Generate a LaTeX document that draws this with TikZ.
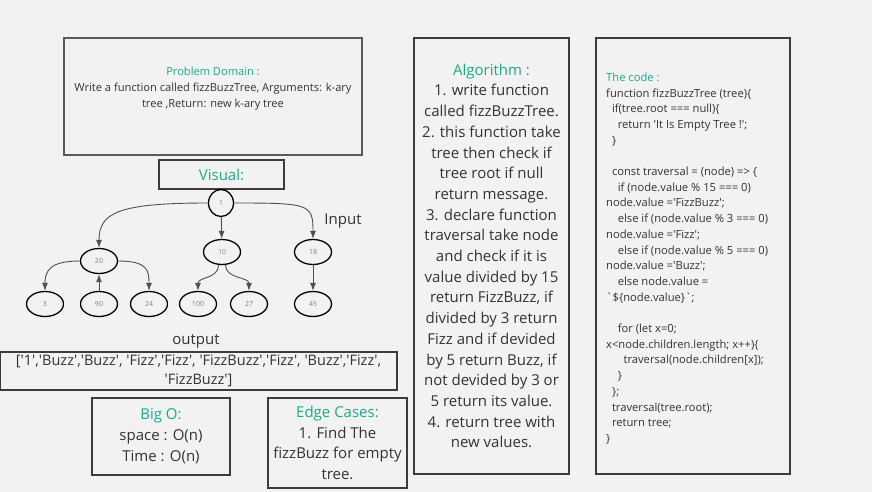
\documentclass[tikz,border=0pt]{standalone}
\usepackage{fontspec}
\setmainfont{Open Sans}
\usepackage{xcolor}
\usetikzlibrary{positioning, arrows.meta}
\usetikzlibrary{shapes, positioning}

\definecolor{bgGrey}{HTML}{F2F2F2}
\definecolor{headTeal}{HTML}{1AAA8A}
\definecolor{bodyText}{HTML}{333333}
\definecolor{boxLine}{HTML}{3C3C3C}
\definecolor{edgeGrey}{HTML}{505050}

\newcommand{\sq}{\textquotesingle}
\newcommand{\bq}{\textasciigrave}

\begin{document}
\begin{tikzpicture}[
            x=1pt, y=-1pt,
            box/.style={draw=boxLine, line width=1.3pt, inner sep=0pt, text=bodyText, align=center},
            vertex/.style={ellipse, draw, line width=1.3pt, minimum width=37pt, minimum height=25pt,
                inner sep=0pt, font=\fontsize{7}{8}\selectfont, text=gray},
            edge/.style={draw=edgeGrey, line width=0.9pt, -{Latex[length=8pt,width=6pt]}},
        ]
            \fill[bgGrey] (0,0) rectangle (872,492);
            \useasboundingbox (0,0) rectangle (872,492);

            % problem domain
            \node[box, draw=boxLine!85, line width=1.8pt, minimum width=298pt, minimum height=117pt] (problem) at (213,96.5) {};
            \node[text=bodyText, align=center, font=\fontsize{11.1}{16}\selectfont] (problemtext) at (213,88.5)
                {{\color{headTeal}Problem Domain :}\\
                Write a function called fizzBuzzTree, Arguments: k-ary\\
                tree ,Return: new k-ary tree};

            \node[box, minimum width=125pt, minimum height=29pt, text=headTeal,
                font=\fontsize{15}{18}\selectfont] (visual) at (221.5,174.5) {Visual:};

            % the tree
            \node[vertex, minimum width=25pt, minimum height=27pt] (n1) at (221,203) {1};
            \node[vertex] (n20) at (99,261) {20};
            \node[vertex] (n10) at (222,252) {10};
            \node[vertex] (n18) at (313,252) {18};
            \node[vertex] (n3) at (45,304) {3};
            \node[vertex] (n90) at (99,304) {90};
            \node[vertex] (n24) at (149,304) {24};
            \node[vertex] (n100) at (198,304) {100};
            \node[vertex] (n27) at (249,304) {27};
            \node[vertex] (n45) at (313,304) {45};

            \draw[edge] (n1.west) .. controls +(-90,0) and +(0,-35) .. (n20.north);
            \draw[edge] (n1.east) .. controls +(75,0) and +(0,-35) .. (n18.north);
            \draw[edge] (n1) -- (n10);
            \draw[edge] (n20.west) .. controls +(-30,0) and +(0,-20) .. (n3.north);
            \draw[edge] (n20.east) .. controls +(30,0) and +(0,-20) .. (n24.north);
            \draw[edge] (n90) -- (n20);
            \draw[edge] (n10.-105) .. controls +(0,14) and +(0,-14) .. (n100.north);
            \draw[edge] (n10.-75) .. controls +(0,14) and +(0,-14) .. (n27.north);
            \draw[edge] (n18) -- (n45);

            \node[text=bodyText, font=\fontsize{15}{18}\selectfont] (input) at (343,221) {Input};

            % output
            \node[text=bodyText, font=\fontsize{15}{18}\selectfont] (outlabel) at (196,341) {output};
            \node[box, minimum width=397pt, minimum height=38pt, font=\fontsize{14.5}{19}\selectfont]
                (output) at (198.5,371)
                {[\sq1\sq,\sq Buzz\sq,\sq Buzz\sq, \sq Fizz\sq,\sq Fizz\sq, \sq FizzBuzz\sq,\sq Fizz\sq, \sq Buzz\sq,\sq Fizz\sq,\\
                \sq FizzBuzz\sq]};

            % big o and edge cases
            \node[box, minimum width=138pt, minimum height=77pt, font=\fontsize{15}{21}\selectfont]
                (bigo) at (161,436.5)
                {{\color{headTeal}Big O:}\\ space : O(n)\\ Time : O(n)};
            \node[box, minimum width=139pt, minimum height=90pt, font=\fontsize{15}{20.7}\selectfont]
                (edgecases) at (337.5,443)
                {{\color{headTeal}Edge Cases:}\\ 1. Find The\\ fizzBuzz for empty\\ tree.};

            % algorithm
            \node[box, minimum width=155pt, minimum height=436pt, font=\fontsize{15}{20.7}\selectfont]
                (algorithm) at (491.5,256)
                {{\color{headTeal}Algorithm :}\\
                1. write function\\
                called fizzBuzzTree.\\
                2. this function take\\
                tree then check if\\
                tree root if null\\
                return message.\\
                3. declare function\\
                traversal take node\\
                and check if it is\\
                value divided by 15\\
                return FizzBuzz, if\\
                divided by 3 return\\
                Fizz and if devided\\
                by 5 return Buzz, if\\
                not devided by 3 or\\
                5 return its value.\\
                4. return tree with\\
                new values.};

            % the code
            \node[box, minimum width=194pt, minimum height=436pt] (code) at (693,256) {};
            \node[anchor=west, inner sep=0pt, align=left, text=bodyText, font=\fontsize{11.2}{15.7}\selectfont]
                (codetext) at (606,258.5)
                {{\color{headTeal}The code :}\\
                function fizzBuzzTree (tree)\{\\
                \hspace*{5.8pt}if(tree.root === null)\{\\
                \hspace*{11.6pt}return \sq It Is Empty Tree !\sq;\\
                \hspace*{5.8pt}\}\\
                \mbox{}\\
                \hspace*{5.8pt}const traversal = (node) => \{\\
                \hspace*{11.6pt}if (node.value \% 15 === 0)\\
                node.value =\sq FizzBuzz\sq;\\
                \hspace*{11.6pt}else if (node.value \% 3 === 0)\\
                node.value =\sq Fizz\sq;\\
                \hspace*{11.6pt}else if (node.value \% 5 === 0)\\
                node.value =\sq Buzz\sq;\\
                \hspace*{11.6pt}else node.value =\\
                \bq\$\{node.value\}\bq;\\
                \mbox{}\\
                \hspace*{11.6pt}for (let x=0;\\
                x<node.children.length; x++)\{\\
                \hspace*{17.4pt}traversal(node.children[x]);\\
                \hspace*{11.6pt}\}\\
                \hspace*{5.8pt}\};\\
                \hspace*{5.8pt}traversal(tree.root);\\
                \hspace*{5.8pt}return tree;\\
                \}};
        \end{tikzpicture}
\end{document}
